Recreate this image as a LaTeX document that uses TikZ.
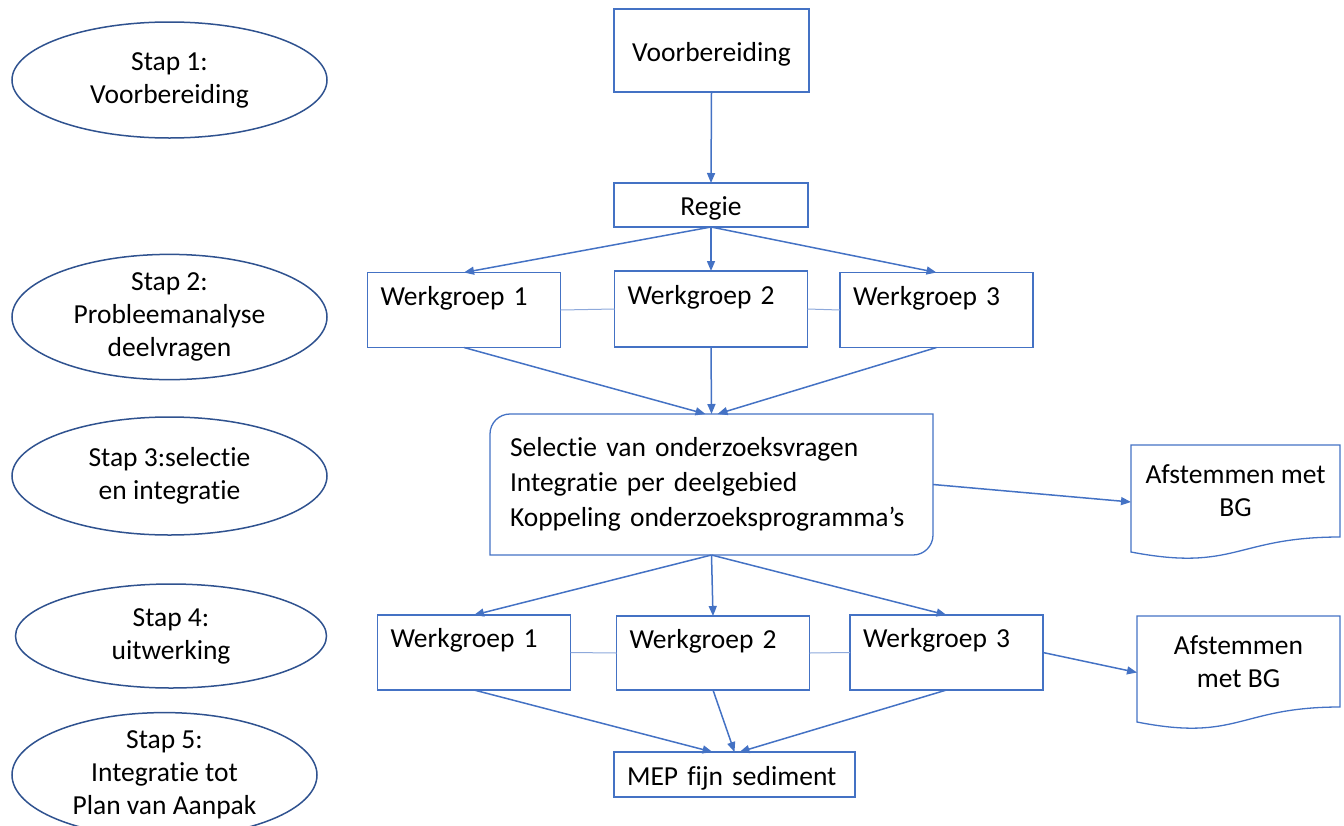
\documentclass[tikz,border=0pt]{standalone}
\usepackage{fontspec}
\setmainfont{Carlito}[Ligatures={NoCommon}]
\usetikzlibrary{shapes.geometric,arrows.meta,calc}
\definecolor{boxblue}{HTML}{4472C4}
\definecolor{ellblue}{HTML}{2F528F}
\definecolor{linkblue}{HTML}{8EA9DB}
\begin{document}
\begin{tikzpicture}[x=1pt,y=-1pt,
  every node/.style={font=\fontsize{27.5}{33}\selectfont, inner sep=0pt, outer sep=0pt},
  stepell/.style={ellipse, draw=ellblue, line width=1.5pt, align=center},
  plainbox/.style={rectangle, draw=boxblue, line width=1.3pt, align=center, text height=24pt, text depth=3pt},
  wgbox/.style={rectangle, draw=boxblue, line width=1.3pt, inner xsep=13pt,
    text width=167pt, minimum height=75pt, align=left, text height=18pt, text depth=28pt},
  docnode/.style={rectangle, draw=none, align=center},
  docline/.style={draw=boxblue, line width=1.3pt},
  boxline/.style={draw=boxblue, line width=1.3pt},
  arr/.style={draw=boxblue, line width=1.5pt, -{Triangle[length=10pt,width=8pt]}},
  link/.style={draw=linkblue, line width=1pt}
]
\useasboundingbox (0,0) rectangle (1344,825);

% step ellipses
\node[stepell, minimum width=315pt, minimum height=116pt] (e1) at (169.5,80) {Stap 1:\\Voorbereiding};
\node[stepell, minimum width=315pt, minimum height=118pt] (e2) at (169.5,317) {Stap 2:\\Probleemanalyse\\deelvragen};
\node[stepell, minimum width=315pt, minimum height=118pt] (e3) at (169.5,476) {Stap 3:selectie\\en integratie};
\node[stepell, minimum width=311pt, minimum height=104pt] (e4) at (171,636) {Stap 4:\\uitwerking};
\node[stepell, minimum width=305pt, minimum height=106pt] (e5) at (164.5,775) {Stap 5:\\Integratie tot\\Plan van Aanpak};

% flow boxes
\node[plainbox, minimum width=195pt, minimum height=83pt] (prep) at (711.5,50.5) {Voorbereiding};
\node[plainbox, minimum width=194pt, minimum height=44pt] (regie) at (711,205) {Regie};

\node[wgbox] (wg1a) at (464,310) {Werkgroep 1};
\node[wgbox, minimum height=76pt] (wg2a) at (711,309) {Werkgroep 2};
\node[wgbox] (wg3a) at (936.5,310) {Werkgroep 3};

\node[rectangle, draw=none, minimum width=443pt, minimum height=141pt, inner xsep=20pt,
  text width=403pt, align=left, font=\fontsize{27.5}{35}\selectfont] (sel) at (711.5,484.5)
  {Selectie van onderzoeksvragen\\Integratie per deelgebied\\Koppeling onderzoeksprogramma’s};
\draw[boxline] (sel.south west) -- (sel.west) {[rounded corners=20pt] -- (sel.north west) -- (sel.north)}
  -- (sel.north east) -- (sel.east) {[rounded corners=20pt] -- (sel.south east) -- (sel.south)} -- cycle;

\node[docnode, minimum width=209pt, minimum height=92pt] (d1) at (1235.5,491) {Afstemmen met\\BG};
\draw[docline] ($(d1.south west)+(0,15)$) -- (d1.north west) -- (d1.north east) -- (d1.south east)
  .. controls (d1.south) and ($(d1.south)+(0,35)$) .. ($(d1.south west)+(0,15)$) -- cycle;

\node[wgbox] (wg1b) at (474,652.5) {Werkgroep 1};
\node[wgbox, minimum height=74pt] (wg2b) at (713,653) {Werkgroep 2};
\node[wgbox] (wg3b) at (946.5,652.5) {Werkgroep 3};

\node[docnode, minimum width=203pt, minimum height=91pt] (d2) at (1238.5,661.5) {Afstemmen\\met BG};
\draw[docline] ($(d2.south west)+(0,15)$) -- (d2.north west) -- (d2.north east) -- (d2.south east)
  .. controls (d2.south) and ($(d2.south)+(0,35)$) .. ($(d2.south west)+(0,15)$) -- cycle;

\node[rectangle, draw=boxblue, line width=1.3pt, minimum width=241pt, minimum height=45pt,
  inner xsep=13pt, text width=215pt, align=left, text height=24pt, text depth=3pt] (mep) at (734.5,774.5) {MEP fijn sediment};

% connectors
\draw[arr] (prep.south) -- (regie.north);
\draw[arr] (regie.south) -- (wg1a.north);
\draw[arr] (regie.south) -- (wg2a.north);
\draw[arr] (regie.south) -- (wg3a.north);
\draw[link] (wg1a.east) -- (wg2a.west);
\draw[link] (wg2a.east) -- (wg3a.west);
\draw[arr] (wg1a.south) -- ([xshift=-6pt]sel.north);
\draw[arr] (wg2a.south) -- (sel.north);
\draw[arr] (wg3a.south) -- ([xshift=6pt]sel.north);
\draw[arr] (sel.east) -- ([yshift=-11pt]d1.west);
\draw[arr] (sel.south) -- (wg1b.north);
\draw[arr] (sel.south) -- (wg2b.north);
\draw[arr] (sel.south) -- (wg3b.north);
\draw[link] (wg1b.east) -- (wg2b.west);
\draw[link] (wg2b.east) -- (wg3b.west);
\draw[arr] (wg3b.east) -- ([yshift=-11pt]d2.west);
\draw[arr] (wg1b.south) -- ([xshift=-22pt]mep.north);
\draw[arr] (wg2b.south) -- (mep.north);
\draw[arr] (wg3b.south) -- ([xshift=5pt]mep.north);
\end{tikzpicture}
\end{document}
